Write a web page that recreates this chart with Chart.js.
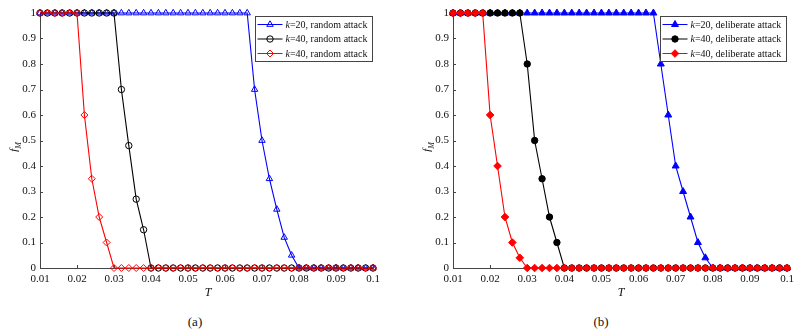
<!DOCTYPE html>
<html>
<head>
<meta charset="utf-8">
<script src="https://cdn.jsdelivr.net/npm/chart.js@4.4.1/dist/chart.umd.min.js"></script>
<style>
  html, body { margin: 0; padding: 0; background: #fff; }
  #page { position: relative; width: 801px; height: 336px; overflow: hidden;
          font-family: "Liberation Serif", "Times New Roman", serif; color: #111; }
  canvas { position: absolute; top: 0; }
  #chartA { left: 0; }
  #chartB { left: 413px; }
  .xlab { position: absolute; top: 285px; font-style: italic; font-size: 12px; transform: translateX(-50%); }
  .ylab { position: absolute; top: 147px; font-size: 11px; white-space: nowrap;
          transform: translate(-50%, -50%) rotate(-90deg); }
  .ylab sub { font-size: 8px; font-style: italic; }
  .cap { position: absolute; top: 314px; font-size: 13px; transform: translateX(-50%); }
</style>
</head>
<body>
<div id="page">
  <canvas id="chartA" width="400" height="290"></canvas>
  <canvas id="chartB" width="388" height="290"></canvas>
  <div class="ylab" style="left:15px"><i>f</i><sub>M</sub></div>
  <div class="ylab" style="left:428px"><i>f</i><sub>M</sub></div>
  <div class="xlab" style="left:208px">T</div>
  <div class="xlab" style="left:621px">T</div>
  <div class="cap" style="left:195px">(a)</div>
  <div class="cap" style="left:601px">(b)</div>
</div>
<script>
// T values (x) shared by every series
const tValues = [
  0.010, 0.012, 0.014, 0.016, 0.018, 0.020, 0.022, 0.024, 0.026, 0.028,
  0.030, 0.032, 0.034, 0.036, 0.038, 0.040, 0.042, 0.044, 0.046, 0.048,
  0.050, 0.052, 0.054, 0.056, 0.058, 0.060, 0.062, 0.064, 0.066, 0.068,
  0.070, 0.072, 0.074, 0.076, 0.078, 0.080, 0.082, 0.084, 0.086, 0.088,
  0.090, 0.092, 0.094, 0.096, 0.098, 0.100
];

const xTicks = [0.01, 0.02, 0.03, 0.04, 0.05, 0.06, 0.07, 0.08, 0.09, 0.1];
const xTickLabels = ["0.01", "0.02", "0.03", "0.04", "0.05", "0.06", "0.07", "0.08", "0.09", "0.1"];
const yTicks = [0, 0.1, 0.2, 0.3, 0.4, 0.5, 0.6, 0.7, 0.8, 0.9, 1];
const yTickLabels = ["0", "0.1", "0.2", "0.3", "0.4", "0.5", "0.6", "0.7", "0.8", "0.9", "1"];

// (a) random attack
const randomK20 = [
  1, 1, 1, 1, 1, 1, 1, 1, 1, 1,
  1, 1, 1, 1, 1, 1, 1, 1, 1, 1,
  1, 1, 1, 1, 1, 1, 1, 1, 1, 0.7,
  0.5, 0.35, 0.23, 0.12, 0.05, 0, 0, 0, 0, 0,
  0, 0, 0, 0, 0, 0
];
const randomK40a = [
  1, 1, 1, 1, 1, 1, 1, 1, 1, 1,
  1, 0.7, 0.48, 0.27, 0.15, 0, 0, 0, 0, 0,
  0, 0, 0, 0, 0, 0, 0, 0, 0, 0,
  0, 0, 0, 0, 0, 0, 0, 0, 0, 0,
  0, 0, 0, 0, 0, 0
];
const randomK40b = [
  1, 1, 1, 1, 1, 1, 0.6, 0.35, 0.2, 0.1,
  0, 0, 0, 0, 0, 0, 0, 0, 0, 0,
  0, 0, 0, 0, 0, 0, 0, 0, 0, 0,
  0, 0, 0, 0, 0, 0, 0, 0, 0, 0,
  0, 0, 0, 0, 0, 0
];

// (b) deliberate attack
const delibK20 = [
  1, 1, 1, 1, 1, 1, 1, 1, 1, 1,
  1, 1, 1, 1, 1, 1, 1, 1, 1, 1,
  1, 1, 1, 1, 1, 1, 1, 1, 0.8, 0.6,
  0.4, 0.3, 0.2, 0.1, 0.04, 0, 0, 0, 0, 0,
  0, 0, 0, 0, 0, 0
];
const delibK40a = [
  1, 1, 1, 1, 1, 1, 1, 1, 1, 1,
  0.8, 0.5, 0.35, 0.2, 0.1, 0, 0, 0, 0, 0,
  0, 0, 0, 0, 0, 0, 0, 0, 0, 0,
  0, 0, 0, 0, 0, 0, 0, 0, 0, 0,
  0, 0, 0, 0, 0, 0
];
const delibK40b = [
  1, 1, 1, 1, 1, 0.6, 0.4, 0.2, 0.1, 0.04,
  0, 0, 0, 0, 0, 0, 0, 0, 0, 0,
  0, 0, 0, 0, 0, 0, 0, 0, 0, 0,
  0, 0, 0, 0, 0, 0, 0, 0, 0, 0,
  0, 0, 0, 0, 0, 0
];

const labelsA = ["k=20, random attack", "k=40, random attack", "k=40, random attack"];
const labelsB = ["k=20, deliberate attack", "k=40, deliberate attack", "k=40, deliberate attack"];

const AXIS = "#444";
const FONT = '"Liberation Serif", "Times New Roman", serif';

// little inward tick marks on both axes
const innerTicks = {
  id: "innerTicks",
  beforeDatasetsDraw(chart) {
    const { ctx, chartArea: a, scales: { x, y } } = chart;
    ctx.save();
    ctx.strokeStyle = AXIS;
    ctx.lineWidth = 1;
    ctx.beginPath();
    x.ticks.forEach((t) => {
      const px = Math.round(x.getPixelForValue(t.value)) + 0.5;
      ctx.moveTo(px, a.bottom);
      ctx.lineTo(px, a.bottom - 3);
    });
    y.ticks.forEach((t) => {
      const py = Math.round(y.getPixelForValue(t.value)) + 0.5;
      ctx.moveTo(a.left, py);
      ctx.lineTo(a.left + 3, py);
    });
    ctx.stroke();
    ctx.restore();
  }
};

// legend box drawn inside the plot, top right
const insideLegend = {
  id: "insideLegend",
  afterDatasetsDraw(chart) {
    const { ctx, chartArea: a } = chart;
    const sets = chart.data.datasets;
    ctx.save();
    const italic = "italic 10px " + FONT;
    const plain = "10px " + FONT;
    let textW = 0;
    sets.forEach((ds) => {
      ctx.font = italic;
      let w = ctx.measureText(ds.label.charAt(0)).width;
      ctx.font = plain;
      w += ctx.measureText(ds.label.slice(1)).width;
      textW = Math.max(textW, w);
    });
    const rowH = 14.5;
    const w = Math.round(30 + textW + 5);
    const h = 45;
    const x0 = Math.round(a.right - 1 - w) + 0.5;
    const y0 = Math.round(a.top + 3) + 0.5;
    ctx.fillStyle = "#fff";
    ctx.fillRect(x0, y0, w, h);
    ctx.strokeStyle = AXIS;
    ctx.lineWidth = 1;
    ctx.strokeRect(x0, y0, w, h);

    sets.forEach((ds, i) => {
      const cy = y0 + 8 + i * rowH;
      ctx.strokeStyle = ds.borderColor;
      ctx.lineWidth = 1;
      ctx.beginPath();
      ctx.moveTo(x0 + 2, cy);
      ctx.lineTo(x0 + 27, cy);
      ctx.stroke();
      ctx.fillStyle = ds.pointBackgroundColor;
      ctx.strokeStyle = ds.pointBorderColor;
      Chart.helpers.drawPoint(ctx, {
        pointStyle: ds.pointStyle, radius: ds.pointRadius, borderWidth: 1, rotation: 0
      }, x0 + 14.5, cy);
      ctx.fillStyle = "#111";
      ctx.textBaseline = "middle";
      ctx.font = italic;
      const k = ds.label.charAt(0);
      ctx.fillText(k, x0 + 30, cy + 0.5);
      const kw = ctx.measureText(k).width;
      ctx.font = plain;
      ctx.fillText(ds.label.slice(1), x0 + 30 + kw, cy + 0.5);
    });
    ctx.restore();
  }
};

function toPoints(values) {
  return tValues.map((t, i) => ({ x: t, y: values[i] }));
}

function makeDataset(label, values, color, style, radius, filled, order) {
  return {
    label,
    data: toPoints(values),
    borderColor: color,
    backgroundColor: color,
    borderWidth: 1.1,
    pointStyle: style,
    pointRadius: radius,
    pointHoverRadius: radius,
    pointBorderColor: color,
    pointBackgroundColor: filled ? color : "rgba(0,0,0,0)",
    pointBorderWidth: 1,
    tension: 0,
    clip: false,
    order
  };
}

function makeChart(id, datasets, rightPad) {
  return new Chart(document.getElementById(id).getContext("2d"), {
    type: "line",
    data: { datasets },
    options: {
      responsive: false,
      animation: false,
      events: [],
      layout: { padding: { top: 13, right: rightPad, left: 0, bottom: 0 } },
      plugins: { legend: { display: false }, tooltip: { enabled: false } },
      scales: {
        x: {
          type: "linear",
          min: 0.01,
          max: 0.1,
          afterBuildTicks: (s) => { s.ticks = xTicks.map((v) => ({ value: v })); },
          afterFit: (s) => { s.height = 22; },
          ticks: {
            autoSkip: false,
            maxRotation: 0,
            padding: 5,
            color: "#111",
            font: { family: FONT, size: 11 },
            callback: (v, i) => xTickLabels[i]
          },
          grid: { display: false, drawTicks: false },
          border: { display: true, color: AXIS, width: 1 }
        },
        y: {
          type: "linear",
          min: 0,
          max: 1,
          afterBuildTicks: (s) => { s.ticks = yTicks.map((v) => ({ value: v })); },
          afterFit: (s) => { s.width = 40; },
          ticks: {
            autoSkip: false,
            padding: 4,
            color: "#111",
            font: { family: FONT, size: 11 },
            callback: (v, i) => yTickLabels[i]
          },
          grid: { display: false, drawTicks: false },
          border: { display: true, color: AXIS, width: 1 }
        }
      }
    },
    plugins: [innerTicks, insideLegend]
  });
}

makeChart("chartA", [
  makeDataset(labelsA[0], randomK20, "#0000ff", "triangle", 3.7, false, 3),
  makeDataset(labelsA[1], randomK40a, "#000000", "circle", 3.2, false, 2),
  makeDataset(labelsA[2], randomK40b, "#ff0000", "rectRot", 3.5, false, 1)
], 27);

makeChart("chartB", [
  makeDataset(labelsB[0], delibK20, "#0000ff", "triangle", 4, true, 3),
  makeDataset(labelsB[1], delibK40a, "#000000", "circle", 3.2, true, 2),
  makeDataset(labelsB[2], delibK40b, "#ff0000", "rectRot", 3.8, true, 1)
], 14);
</script>
</body>
</html>
